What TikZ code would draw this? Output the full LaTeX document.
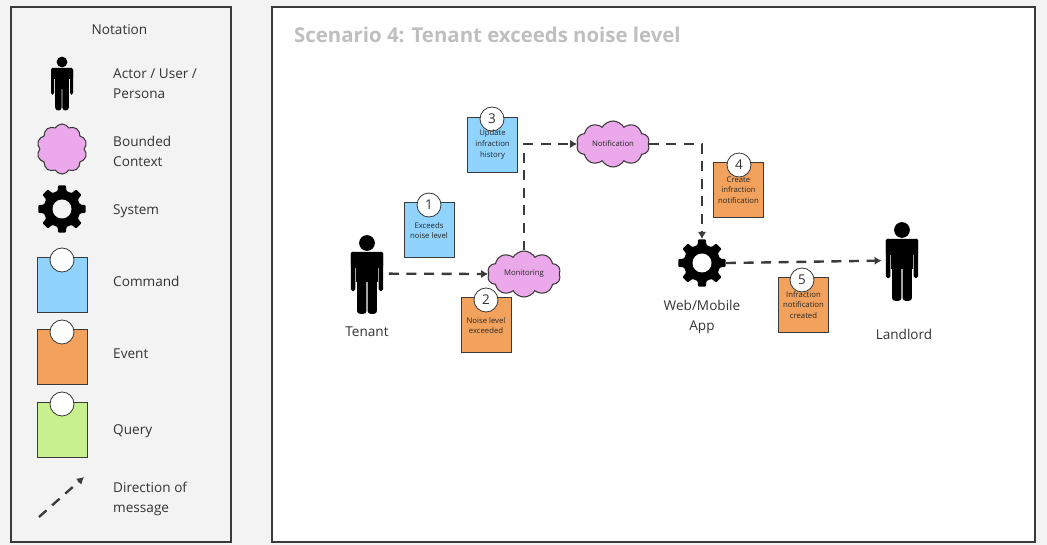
\documentclass[tikz,border=0pt]{standalone}
\usepackage{fontspec}
\setmainfont{Open Sans}
\usetikzlibrary{shapes.symbols,arrows.meta}

\definecolor{pagegray}{HTML}{F3F3F3}
\definecolor{linegray}{HTML}{3A3A3A}
\definecolor{cmdblue}{HTML}{8FD3FE}
\definecolor{evtorange}{HTML}{F2A25C}
\definecolor{qrygreen}{HTML}{C8F08F}
\definecolor{ctxpink}{HTML}{EBA8EA}

\tikzset{
  panel/.style={draw=linegray,line width=1.3pt},
  legendtext/.style={anchor=west,align=left,font=\fontsize{11.6}{17}\selectfont,text=black!80,inner sep=0pt},
  actortext/.style={align=center,font=\fontsize{11.6}{17}\selectfont,text=black!80,inner sep=0pt},
  sticky/.style={draw=linegray,line width=.8pt,minimum width=1.5cm,minimum height=1.65cm,inner sep=0pt},
  command/.style={sticky,fill=cmdblue},
  event/.style={sticky,fill=evtorange},
  query/.style={sticky,fill=qrygreen},
  badge/.style={circle,draw=linegray,fill=white,line width=.7pt,minimum size=.72cm,inner sep=0pt,font=\fontsize{11.5}{12}\selectfont,text=black!80},
  notetext/.style={align=center,font=\fontsize{6.6}{9}\selectfont,text=black!85,inner sep=0pt},
  context/.style={cloud,cloud puffs=10,cloud puff arc=120,cloud ignores aspect,draw=linegray,fill=ctxpink,line width=.9pt,inner sep=0pt,font=\fontsize{6.6}{9}\selectfont,text=black!85},
  message/.style={draw=linegray,line width=2pt,dash pattern=on 8.5pt off 6.5pt,-{Latex[length=6pt,width=7pt]}},
  pics/person/.style={code={
    \fill (0,0) circle (5.4);
    \fill[rounded corners=1.2] (-11,6) rectangle (11,17);
    \fill (-7.4,10) rectangle (7.4,27);
    \fill[rounded corners=1.5] (-11,6) rectangle (-8,33);
    \fill[rounded corners=1.5] (8,6) rectangle (11,33);
    \fill[rounded corners=2.5] (-6.8,20) rectangle (-.4,48.5);
    \fill[rounded corners=2.5] (.4,20) rectangle (6.8,48.5);
    \coordinate (-west) at (-14,21);
    \coordinate (-east) at (15,21);
  }},
  pics/gear/.style={code={
    \fill[rounded corners=.8] (-14:18.5)
      \foreach \a in {0,45,...,315}{
        -- ({\a-14}:18.5) -- ({\a-9}:24) -- ({\a+9}:24) -- ({\a+14}:18.5)
      } -- cycle;
    \coordinate (-north) at (0,-24);
    \coordinate (-east) at (24,0);
  }},
  pics/gearhole/.style={code={
    \fill[#1] (0,0) circle (9.5);
  }}
}

\begin{document}
\begin{tikzpicture}[x=.03cm,y=-.03cm]
\useasboundingbox (0,0) rectangle (1047,545);
\fill[pagegray] (0,0) rectangle (1047,545);

% panels
\draw[panel,line width=1.9pt] (11,7) rectangle (231,542);
\draw[panel,fill=white,line width=1.1pt] (272,7) rectangle (1035,542);
\node[anchor=west,inner sep=0pt,text=black!25,font=\fontsize{17.4}{20}\selectfont\bfseries] (title) at (294,34.5) {Scenario 4: Tenant exceeds noise level};

% legend
\node[actortext] (notation) at (119.5,30) {Notation};

\pic (legactor) at (62,62) {person};
\node[legendtext] (legactortext) at (113,84) {Actor / User /\\Persona};

\node[context,minimum width=1.5cm,minimum height=1.5cm] (legctx) at (62,149) {};
\node[legendtext] (legctxtext) at (113,151) {Bounded\\Context};

\pic (legsys) at (62,209) {gear};
\pic at (62,209) {gearhole=pagegray};
\node[legendtext] (legsystext) at (113,211) {System};

\node[command] (legcmd) at (62,284.5) {};
\node[badge] (legcmdb) at (62,260) {};
\node[legendtext] (legcmdtext) at (113,281) {Command};

\node[event] (legevt) at (62,356.5) {};
\node[badge] (legevtb) at (62,332) {};
\node[legendtext] (legevttext) at (113,354) {Event};

\node[query] (legqry) at (62,429.5) {};
\node[badge] (legqryb) at (62,404) {};
\node[legendtext] (legqrytext) at (113,431) {Query};

\coordinate (legfrom) at (39,517);
\coordinate (legto) at (84,477);
\draw[message] (legfrom) -- (legto);
\node[legendtext] (legmsgtext) at (113,499) {Direction of\\message};

% actors and systems
\pic[scale=1.46] (tenant) at (367,243) {person};
\node[actortext] (tenanttext) at (367,332) {Tenant};

\pic[scale=1.46] (landlord) at (902,230) {person};
\node[actortext] (landlordtext) at (904,334) {Landlord};

\pic (webapp) at (702,263) {gear};
\pic at (702,263) {gearhole=white};
\node[actortext] (webapptext) at (702,317) {Web/Mobile\\App};

\node[context,minimum width=2.2cm,minimum height=1.38cm] (monitoring) at (524,274) {Monitoring};
\node[context,minimum width=2.2cm,minimum height=1.38cm] (notification) at (613,144) {Notification};

% messages
\draw[message] (tenant-east) -- (monitoring.west);
\draw[message] (monitoring.north) |- (notification.west);
\draw[message] (notification.east) -| (webapp-north);
\draw[message] (webapp-east) -- (landlord-west);

% sticky notes
\node[command] (note1) at (429,230) {};
\node[badge] (badge1) at (429,205) {1};
\node[notetext] (text1) at (429,230.5) {Exceeds\\noise level};

\node[event] (note2) at (486,325) {};
\node[badge] (badge2) at (486,300) {2};
\node[notetext] (text2) at (486,325.5) {Noise level\\exceeded};

\node[command] (note3) at (492.5,144.5) {};
\node[badge] (badge3) at (492,119) {3};
\node[notetext] (text3) at (492.5,144.5) {Update\\infraction\\history};

\node[event] (note4) at (738.5,189.5) {};
\node[badge] (badge4) at (739,165) {4};
\node[notetext] (text4) at (738.5,190) {Create\\infraction\\notification};

\node[event] (note5) at (803.5,304.5) {};
\node[badge] (badge5) at (802,280) {5};
\node[notetext] (text5) at (803.5,305) {Infraction\\notification\\created};
\end{tikzpicture}
\end{document}
